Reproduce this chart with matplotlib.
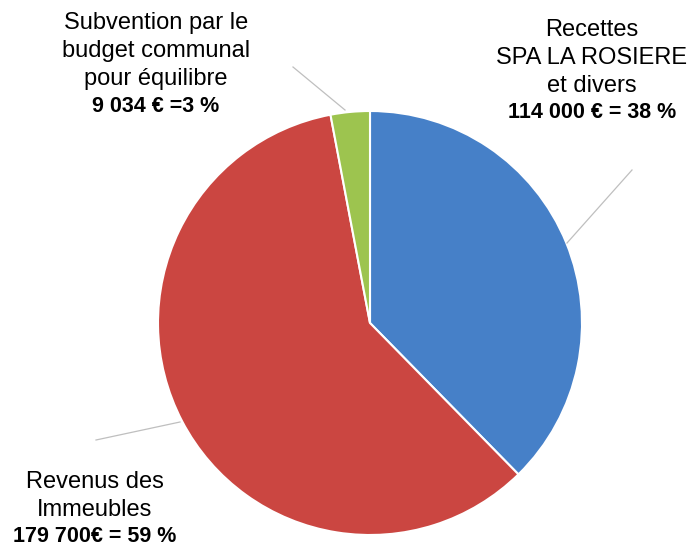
import matplotlib.pyplot as plt

# slice values, clockwise from the top
names = ["Recettes\nSPA LA ROSIERE\net divers",
         "Revenus des\nImmeubles",
         "Subvention par le\nbudget communal\npour équilibre"]
amounts = [114000, 179700, 9034]
value_labels = ["114 000 € = 38 %", "179 700€ = 59 %", "9 034 € =3 %"]
colors = ["#4680C8", "#CB4641", "#9DC44F"]

plt.rcParams['font.family'] = ['Liberation Sans', 'DejaVu Sans']

W, H = 694, 544
fig = plt.figure(figsize=(W / 100, H / 100), dpi=100)
ax = fig.add_axes([0, 0, 1, 1])

cx, cy, r = 370, H - 323, 212
ax.pie(amounts, colors=colors, startangle=90, counterclock=False,
       center=(cx, cy), radius=r, frame=True,
       wedgeprops=dict(edgecolor='white', linewidth=1.5))
ax.set_xlim(0, W)
ax.set_ylim(0, H)
ax.set_aspect('equal')
ax.axis('off')

# label positions (pixel coordinates, top-left origin)
label_x = [592, 95, 156]
label_top = [30, 482, 23]
leaders = [((632, 170), (567, 243)),
           ((96, 440), (180, 422)),
           ((293, 67), (345, 110))]
step = 28

for name, val, lx, ly, (p0, p1) in zip(names, value_labels, label_x,
                                        label_top, leaders):
    lines = name.split("\n")
    for i, line in enumerate(lines):
        ax.text(lx, H - (ly + i * step), line, ha='center', va='center',
                fontsize=17, color='black')
    ax.text(lx, H - (ly + len(lines) * step - 1), val, ha='center',
            va='center', fontsize=15.5, fontweight='bold', color='black')
    ax.plot([p0[0], p1[0]], [H - p0[1], H - p1[1]], color='#BFBFBF', lw=0.9)

fig.savefig("out.png", dpi=100)
